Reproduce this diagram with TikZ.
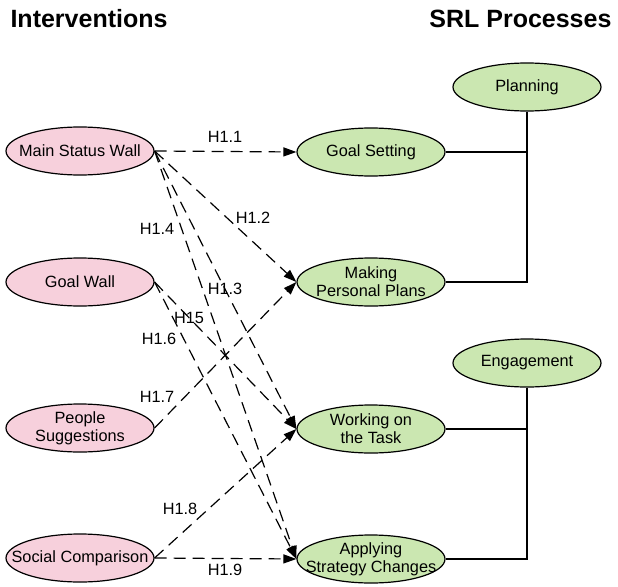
\documentclass[tikz,border=0pt]{standalone}
\usepackage{fontspec}
\setmainfont{Liberation Sans}
\usetikzlibrary{shapes.geometric,arrows.meta}
\definecolor{pinkint}{HTML}{F7D0DC}
\definecolor{greensrl}{HTML}{CBE7B1}
\begin{document}
\begin{tikzpicture}[x=1pt, y=-1pt,
    inter/.style={ellipse, draw, line width=1.2pt, fill=pinkint, minimum width=148pt, minimum height=48pt, inner xsep=-20pt, inner ysep=0pt, align=center, font=\fontsize{16.3}{18}\selectfont},
    srl/.style={inter, fill=greensrl},
    hyp/.style={line width=1.2pt, dash pattern=on 12pt off 7pt, -{Triangle[length=13pt,width=9pt]}},
    lab/.style={inner sep=0pt, font=\fontsize{16.3}{18}\selectfont},
    tit/.style={font=\fontsize{25}{30}\selectfont\bfseries}]
        \useasboundingbox (0,0) rectangle (618,586);
        %titoli
        \node[tit, anchor=base west] (tint) at (7,28) {Interventions};
        \node[tit, anchor=base east] (tsrl) at (615,28) {SRL Processes};
        %interventi
        \node[inter] (msw) at (80,151) {Main Status Wall};
        \node[inter] (gw) at (80,282) {Goal Wall};
        \node[inter] (ps) at (80,428) {People\\Suggestions};
        \node[inter] (sc) at (80,558) {Social Comparison};
        %processi SRL
        \node[srl] (pl) at (527,87) {Planning};
        \node[srl] (gs) at (371,152) {Goal Setting};
        \node[srl] (mpp) at (371,282) {Making\\Personal Plans};
        \node[srl] (en) at (527,363) {Engagement};
        \node[srl] (wt) at (371,429) {Working on\\the Task};
        \node[srl] (asc) at (371,559) {Applying\\Strategy Changes};
        %raggruppamento
        \draw[line width=1.2pt] (pl.south) -- (pl.south |- mpp.east) -- (mpp.east);
        \draw[line width=1.2pt] (gs.east) -- (gs.east -| pl.south);
        \draw[line width=1.2pt] (en.south) -- (en.south |- asc.east) -- (asc.east);
        \draw[line width=1.2pt] (wt.east) -- (wt.east -| en.south);
        %ipotesi
        \draw[hyp] (msw.east) -- (gs.west);
        \draw[hyp] (msw.east) -- (mpp.west);
        \draw[hyp] (msw.east) -- (wt.west);
        \draw[hyp] (msw.east) -- (asc.west);
        \draw[hyp] (gw.east) -- (wt.west);
        \draw[hyp] (gw.east) -- (asc.west);
        \draw[hyp] (ps.east) -- (mpp.west);
        \draw[hyp] (sc.east) -- (wt.west);
        \draw[hyp] (sc.east) -- (asc.west);
        %etichette
        \node[lab] (h11) at (225,137) {H1.1};
        \node[lab] (h12) at (253,218) {H1.2};
        \node[lab] (h13) at (225,289) {H1.3};
        \node[lab] (h14) at (157,229) {H1.4};
        \node[lab] (h15) at (189,318) {H15};
        \node[lab] (h16) at (159,339) {H1.6};
        \node[lab] (h17) at (157,397) {H1.7};
        \node[lab] (h18) at (180,509) {H1.8};
        \node[lab] (h19) at (225,570) {H1.9};
    \end{tikzpicture}
\end{document}
